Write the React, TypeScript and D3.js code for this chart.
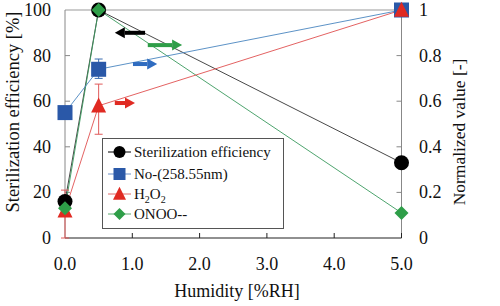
import React from "react";
import * as d3 from "d3";

const humidity = [0, 0.5, 5.0];
const sterilization = [16, 100, 33];
const noValues = [55, 74, 100];
const h2o2Values = [12, 58, 100];
const onooValues = [13, 100, 11];
const noErr = [null, [70, 78.5], null];
const h2o2Err = [[0, 21], [45.5, 67.5], null];
const xTicks = [0, 1, 2, 3, 4, 5];
const yTicks = [0, 20, 40, 60, 80, 100];
const yRTicks = [0, 0.2, 0.4, 0.6, 0.8, 1];
const arrows = [
  { color: "#000000", y: 90, x0: 1.19, x1: 0.74 },
  { color: "#2e9e48", y: 84.6, x0: 1.23, x1: 1.74 },
  { color: "#2f6cc0", y: 76.3, x0: 1.01, x1: 1.37 },
  { color: "#e02a22", y: 59.2, x0: 0.74, x1: 1.04 },
];

const W = 500, H = 306;
const FONT = "Liberation Serif, DejaVu Serif, serif";

export default function App() {
  const x = d3.scaleLinear().domain([0, 5]).range([65, 401.5]);
  const y = d3.scaleLinear().domain([0, 100]).range([238, 10]);
  const yR = d3.scaleLinear().domain([0, 1]).range([238, 10]);
  const line = d3.line<number>().x((_, i) => x(humidity[i])).y((d) => y(d));

  const blue = "#2a58a8";
  const red = "#e02a22";
  const green = "#2e9e48";
  const ts = { fontFamily: FONT };

  const errBar = (e: any, i: number, color: string) => {
    if (!e) return null;
    const cx = x(humidity[i]);
    return (
      <g key={`e${color}${i}`} stroke={color} strokeWidth={1}>
        <line x1={cx} x2={cx} y1={y(e[0])} y2={y(e[1])} />
        <line x1={cx - 4} x2={cx + 4} y1={y(e[0])} y2={y(e[0])} />
        <line x1={cx - 4} x2={cx + 4} y1={y(e[1])} y2={y(e[1])} />
      </g>
    );
  };

  const square = (cx: number, cy: number, s: number, key: string) => (
    <rect key={key} x={cx - s / 2} y={cy - s / 2} width={s} height={s} fill={blue} />
  );
  const tri = (cx: number, cy: number, s: number, key: string) => (
    <path key={key} d={`M${cx},${cy - s * 0.55}L${cx + s / 2},${cy + s * 0.45}L${cx - s / 2},${cy + s * 0.45}Z`} fill={red} />
  );
  const diamond = (cx: number, cy: number, s: number, key: string) => (
    <path key={key} d={`M${cx},${cy - s / 2}L${cx + s / 2},${cy}L${cx},${cy + s / 2}L${cx - s / 2},${cy}Z`} fill={green} />
  );
  const circle = (cx: number, cy: number, r: number, key: string) => (
    <circle key={key} cx={cx} cy={cy} r={r} fill="#000" />
  );

  const arrow = (a: any, k: number) => {
    const px0 = x(a.x0), px1 = x(a.x1), py = y(a.y);
    const dir = px1 > px0 ? 1 : -1;
    const headLen = 10;
    const hb = px1 - dir * headLen;
    return (
      <g key={`a${k}`} fill={a.color}>
        <rect x={Math.min(px0, hb)} y={py - 2} width={Math.abs(hb - px0)} height={4} />
        <path d={`M${px1},${py}L${hb},${py - 5.5}L${hb},${py + 5.5}Z`} />
      </g>
    );
  };

  const legendItems = [
    { label: "Sterilization efficiency", kind: "c", line: "#000" },
    { label: "No-(258.55nm)", kind: "s", line: "#6a8fc8" },
    { label: "H2O2", kind: "t", line: "#e06a6a" },
    { label: "ONOO--", kind: "d", line: "#5aaa6e" },
  ];
  const legendY = [152, 174, 194, 214];

  return (
    <svg width={W} height={H} style={{ display: "block", position: "absolute", left: 0, top: 0, fontFamily: FONT }}>
      <rect width={W} height={H} fill="#fff" />
      {/* frame */}
      <line x1={65} x2={401.5} y1={10} y2={10} stroke="#999" strokeWidth={1} />
      <line x1={65} x2={65} y1={10} y2={238} stroke="#888" strokeWidth={1} />
      <line x1={401.5} x2={401.5} y1={10} y2={238} stroke="#888" strokeWidth={1} />
      <line x1={65} x2={401.5} y1={238} y2={238} stroke="#222" strokeWidth={1.2} />
      {yTicks.slice(1, -1).map((t) => (
        <line key={`yt${t}`} x1={65} x2={70} y1={y(t)} y2={y(t)} stroke="#888" />
      ))}
      {yRTicks.slice(1, -1).map((t) => (
        <line key={`yr${t}`} x1={396.5} x2={401.5} y1={yR(t)} y2={yR(t)} stroke="#888" />
      ))}
      {xTicks.slice(1).map((t) => (
        <line key={`xt${t}`} x1={x(t)} x2={x(t)} y1={238} y2={233} stroke="#222" />
      ))}
      {/* tick labels */}
      {yTicks.map((t) => (
        <text key={`yl${t}`} style={ts} x={51} y={y(t) + 6} textAnchor="end" fontSize={18} fill="#111">{t}</text>
      ))}
      {yRTicks.map((t) => (
        <text key={`yrl${t}`} style={ts} x={419} y={yR(t) + 6} textAnchor="start" fontSize={18} fill="#111">{t === 0 || t === 1 ? String(t) : t.toFixed(1)}</text>
      ))}
      {xTicks.map((t) => (
        <text key={`xl${t}`} style={ts} x={x(t)} y={270} textAnchor="middle" fontSize={18} fill="#111">{t.toFixed(1)}</text>
      ))}
      <text style={ts} x={237} y={297} textAnchor="middle" fontSize={18} fill="#111">Humidity [%RH]</text>
      <text style={ts} transform="translate(19,112) rotate(-90)" textAnchor="middle" fontSize={18.5} fill="#111">Sterilization efficiency [%]</text>
      <text style={ts} transform="translate(465,132) rotate(-90)" textAnchor="middle" fontSize={17.5} fill="#111">Normalized value [-]</text>

      {/* lines */}
      <path d={line(sterilization) || ""} fill="none" stroke="#333" strokeWidth={0.9} />
      <path d={line(onooValues) || ""} fill="none" stroke="#3a9a5e" strokeWidth={0.9} />
      <path d={line(noValues) || ""} fill="none" stroke="#4a86c0" strokeWidth={0.9} />
      <path d={line(h2o2Values) || ""} fill="none" stroke="#e05050" strokeWidth={0.9} />

      {noErr.map((e, i) => errBar(e, i, "#3a6cb0"))}
      {h2o2Err.map((e, i) => errBar(e, i, "#e05a5a"))}

      {/* markers */}
      {noValues.map((v, i) => square(x(humidity[i]), y(v), 15, `s${i}`))}
      {h2o2Values.map((v, i) => tri(x(humidity[i]), y(v), 15, `t${i}`))}
      {sterilization.map((v, i) => circle(x(humidity[i]), y(v), 7.5, `c${i}`))}
      {onooValues.map((v, i) => diamond(x(humidity[i]), y(v), 14, `d${i}`))}

      {arrows.map(arrow)}

      {/* legend */}
      <rect x={102.5} y={138.5} width={181} height={90} fill="#fff" stroke="#555" strokeWidth={1} />
      {legendItems.map((it, i) => {
        const ly = legendY[i];
        return (
          <g key={`lg${i}`}>
            <line x1={108} x2={131} y1={ly} y2={ly} stroke={it.line} strokeWidth={1} />
            {it.kind === "c" && circle(119.5, ly, 6, "lc")}
            {it.kind === "s" && square(119.5, ly, 12, "ls")}
            {it.kind === "t" && tri(119.5, ly, 13, "lt")}
            {it.kind === "d" && diamond(119.5, ly, 12, "ld")}
            {it.kind === "t" ? (
              <text style={ts} x={134} y={ly + 5} fontSize={15} fill="#111">
                H<tspan fontSize={10} dy={4}>2</tspan><tspan dy={-4}>O</tspan><tspan fontSize={10} dy={4}>2</tspan>
              </text>
            ) : (
              <text style={ts} x={134} y={ly + 5} fontSize={15} fill="#111">{it.label}</text>
            )}
          </g>
        );
      })}
    </svg>
  );
}
